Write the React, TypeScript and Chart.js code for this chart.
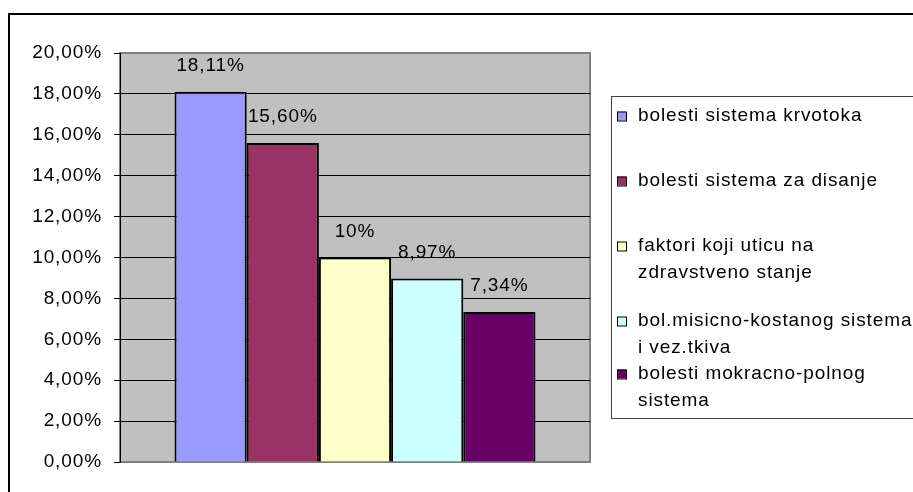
import React, { useEffect, useRef } from "react";
import { Chart, registerables } from "chart.js";

Chart.register(...registerables);

// Disease groups and their share (%)
const categories: string[][] = [
  ["bolesti sistema krvotoka"],
  ["bolesti sistema za disanje"],
  ["faktori koji uticu na", "zdravstveno stanje"],
  ["bol.misicno-kostanog sistema", "i vez.tkiva"],
  ["bolesti mokracno-polnog", "sistema"],
];
const shares: number[] = [18.11, 15.6, 10, 8.97, 7.34];
const barColors: string[] = ["#9999FF", "#993366", "#FFFFCC", "#CCFFFF", "#660066"];

// Axis range
const yMin = 0;
const yMax = 20;
const yStep = 2;

// Layout constants
const W = 913;
const H = 492;
const FONT_FAMILY = "'Liberation Sans', Arial, sans-serif";
const FONT_SIZE = 19;
const FONT = `${FONT_SIZE}px ${FONT_FAMILY}`;
const SPACING = "0.9px";
const LEGEND_BOX = { left: 611, top: 96, right: 930, bottom: 418 };
const LEGEND_ROW_Y = [116, 181, 246, 321, 374];
const LEGEND_LINE_H = 27;

const pct = (v: number) =>
  (Number.isInteger(v) ? String(v) : v.toFixed(2).replace(".", ",")) + "%";

const framePlugin = {
  id: "frame",
  beforeDraw(chart: any) {
    const { ctx, chartArea: a } = chart;
    ctx.save();
    ctx.fillStyle = "#ffffff";
    ctx.fillRect(0, 0, chart.width, chart.height);
    // outer chart border
    ctx.strokeStyle = "#000000";
    ctx.lineWidth = 2;
    ctx.strokeRect(9, 14, 1000, 1000);
    // plot area
    ctx.fillStyle = "#C0C0C0";
    ctx.fillRect(a.left, a.top, a.right - a.left, a.bottom - a.top);
    ctx.strokeStyle = "#808080";
    ctx.lineWidth = 2;
    ctx.strokeRect(a.left, a.top, a.right - a.left, a.bottom - a.top);
    ctx.restore();
    (ctx as any).letterSpacing = SPACING;
  },
};

const labelsPlugin = {
  id: "valueLabels",
  afterDatasetsDraw(chart: any) {
    const { ctx } = chart;
    ctx.save();
    (ctx as any).letterSpacing = SPACING;
    ctx.font = FONT;
    ctx.fillStyle = "#000000";
    ctx.textAlign = "center";
    ctx.textBaseline = "middle";
    chart.data.datasets.forEach((ds: any, i: number) => {
      const bar = chart.getDatasetMeta(i).data[0];
      ctx.fillText(pct(ds.data[0]), bar.x, bar.y - 26);
    });
    ctx.restore();
  },
};

const legendPlugin = {
  id: "boxLegend",
  afterDraw(chart: any) {
    const { ctx } = chart;
    const b = LEGEND_BOX;
    ctx.save();
    (ctx as any).letterSpacing = SPACING;
    ctx.fillStyle = "#ffffff";
    ctx.fillRect(b.left, b.top, b.right - b.left, b.bottom - b.top);
    ctx.strokeStyle = "#404040";
    ctx.lineWidth = 1;
    ctx.strokeRect(b.left + 0.5, b.top + 0.5, b.right - b.left, b.bottom - b.top);
    ctx.font = FONT;
    ctx.textAlign = "left";
    ctx.textBaseline = "middle";
    chart.data.datasets.forEach((ds: any, i: number) => {
      const y0 = LEGEND_ROW_Y[i];
      ctx.fillStyle = ds.backgroundColor;
      ctx.fillRect(617, y0 - 4.5, 9, 9);
      ctx.strokeStyle = "#000000";
      ctx.strokeRect(617.5, y0 - 4, 9, 9);
      ctx.fillStyle = "#000000";
      (ds.lines as string[]).forEach((line, k) => {
        ctx.fillText(line, 638, y0 + k * LEGEND_LINE_H);
      });
    });
    ctx.restore();
  },
};

export default function App() {
  const ref = useRef<HTMLCanvasElement | null>(null);

  useEffect(() => {
    if (!ref.current) return;
    const chart = new Chart(ref.current, {
      type: "bar",
      data: {
        labels: [""],
        datasets: categories.map((lines, i) => ({
          label: lines.join(" "),
          lines,
          data: [shares[i]],
          backgroundColor: barColors[i],
          borderColor: "#000000",
          borderWidth: 2,
          categoryPercentage: 0.768,
          barPercentage: 1,
        })) as any,
      },
      options: {
        animation: false,
        responsive: false,
        maintainAspectRatio: false,
        layout: { padding: { left: 0, top: 53, right: 323, bottom: 30 } },
        plugins: {
          legend: { display: false },
          tooltip: { enabled: false },
          title: { display: false },
        },
        scales: {
          x: { display: false },
          y: {
            min: yMin,
            max: yMax,
            afterFit(scale: any) {
              scale.width = 120;
            },
            ticks: {
              stepSize: yStep,
              padding: 12,
              color: "#000000",
              font: { family: FONT_FAMILY, size: FONT_SIZE },
              callback: (v: any) => Number(v).toFixed(2).replace(".", ",") + "%",
            },
            grid: {
              tickLength: 6,
              tickColor: "#000000",
              lineWidth: 1,
              color: (c: any) =>
                c.tick && (c.tick.value === yMin || c.tick.value === yMax)
                  ? "rgba(0,0,0,0)"
                  : "#000000",
            },
            border: { display: true, color: "#000000", width: 1 },
          },
        },
      },
      plugins: [framePlugin, labelsPlugin, legendPlugin],
    });
    return () => chart.destroy();
  }, []);

  return (
    <div style={{ position: "fixed", left: 0, top: 0, width: W, height: H, background: "#fff" }}>
      <canvas ref={ref} width={W} height={H} style={{ display: "block" }} />
    </div>
  );
}
